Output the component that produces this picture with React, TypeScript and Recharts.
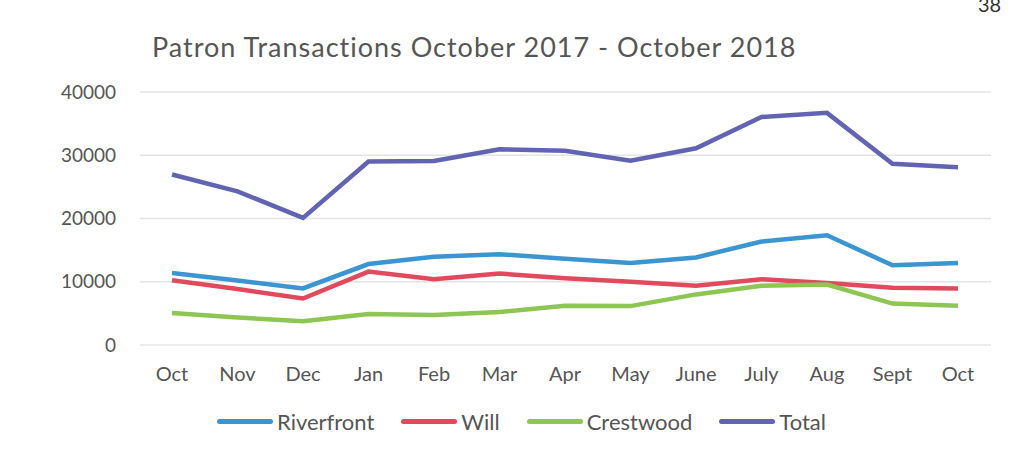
import { LineChart, Line, XAxis, YAxis, CartesianGrid } from "recharts";

const months = ["Oct", "Nov", "Dec", "Jan", "Feb", "Mar", "Apr", "May", "June", "July", "Aug", "Sept", "Oct"];
const riverfront = [11400, 10200, 8950, 12800, 13950, 14350, 13650, 12950, 13850, 16350, 17350, 12600, 12950];
const will = [10250, 8850, 7350, 11600, 10400, 11300, 10550, 10000, 9350, 10400, 9800, 9050, 8950];
const crestwood = [5050, 4350, 3750, 4900, 4750, 5200, 6200, 6150, 8000, 9350, 9550, 6550, 6200];
const total = [26950, 24300, 20100, 29000, 29100, 30950, 30700, 29150, 31100, 36050, 36700, 28650, 28100];
const yTicks = [0, 10000, 20000, 30000, 40000];

const series = [
  { key: "Riverfront", color: "#3b95d1" },
  { key: "Will", color: "#e04a5c" },
  { key: "Crestwood", color: "#8dc653" },
  { key: "Total", color: "#6164b2" },
];

const data = months.map((m, i) => ({
  month: m,
  Riverfront: riverfront[i],
  Will: will[i],
  Crestwood: crestwood[i],
  Total: total[i],
}));

const font = "Lato, 'Open Sans', sans-serif";

export default function App() {
  return (
    <div style={{ position: "fixed", left: 0, top: 0, width: 1013, height: 458, background: "#fff", overflow: "hidden" }}>
      <div style={{ position: "absolute", left: 152, top: 30, fontFamily: font, fontSize: 27, letterSpacing: 1, color: "#555", whiteSpace: "nowrap" }}>
        Patron Transactions October 2017 - October 2018
      </div>
      <div style={{ position: "absolute", left: 978, top: -6, fontFamily: font, fontSize: 20, lineHeight: "20px", color: "#333" }}>38</div>
      <div style={{ position: "absolute", left: 0, top: 0 }}>
        <LineChart width={1013} height={458} data={data} margin={{ top: 92, right: 22, bottom: 83, left: 82 }}>
          <CartesianGrid vertical={false} stroke="#e4e4e4" strokeWidth={1.5} />
          <XAxis
            dataKey="month"
            axisLine={false}
            tickLine={false}
            tickSize={0}
            tickMargin={22}
            padding={{ left: 32, right: 33 }}
            tick={{ fill: "#555", fontSize: 20, fontFamily: font }}
            interval={0}
          />
          <YAxis
            domain={[0, 40000]}
            ticks={yTicks}
            width={58}
            axisLine={false}
            tickLine={false}
            tickSize={0}
            tickMargin={24}
            tick={{ fill: "#555", fontSize: 19, fontFamily: font }}
          />
          {series.map((s) => (
            <Line
              key={s.key}
              type="linear"
              dataKey={s.key}
              stroke={s.color}
              strokeWidth={4.5}
              dot={false}
              isAnimationActive={false}
            />
          ))}
        </LineChart>
      </div>
      <div style={{ position: "absolute", left: 217, top: 408, display: "flex", alignItems: "center", fontFamily: font, fontSize: 22, color: "#555", whiteSpace: "nowrap" }}>
        {series.map((s) => (
          <div key={s.key} style={{ display: "flex", alignItems: "center", marginRight: 27 }}>
            <span style={{ display: "inline-block", width: 56, height: 5, borderRadius: 3, background: s.color, marginRight: 4 }} />
            <span>{s.key}</span>
          </div>
        ))}
      </div>
    </div>
  );
}
